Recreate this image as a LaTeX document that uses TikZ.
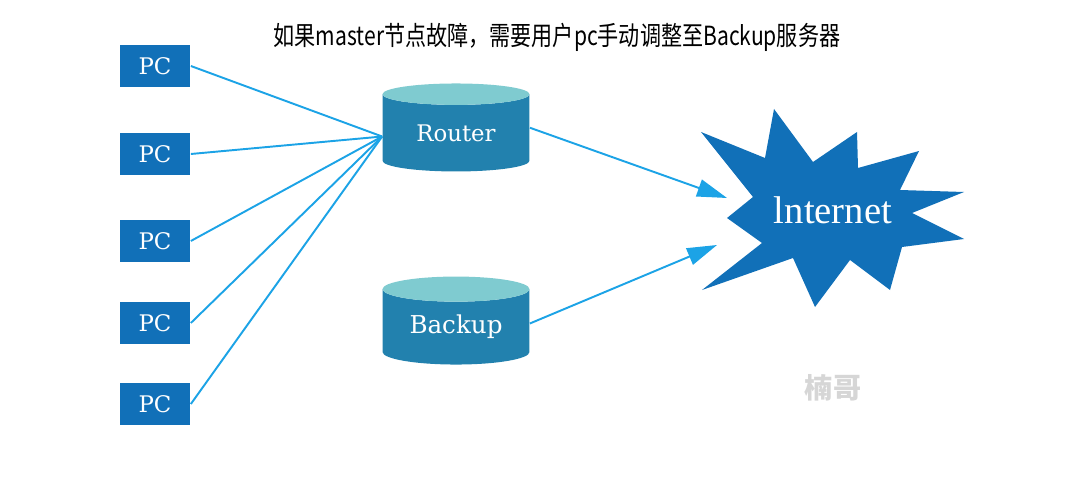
\documentclass[tikz,border=0pt]{standalone}
\usepackage{fontspec}
\setmainfont{Liberation Serif}
\newfontfamily\cjkfont{Noto Sans CJK SC}
\newfontfamily\boxfont{DejaVu Serif}
\usepackage{tikz}
\usetikzlibrary{shapes.geometric,arrows.meta}

\definecolor{pcblue}{HTML}{1170B8}
\definecolor{cylbody}{HTML}{2281AE}
\definecolor{cyltop}{HTML}{7FCBD0}
\definecolor{linkblue}{HTML}{1CA3E6}
\definecolor{markgray}{HTML}{D6D6D6}

\tikzset{
	pcbox/.style={fill=pcblue, minimum width=1.42cm, minimum height=0.84cm, inner sep=0pt, text=white, font=\boxfont\fontsize{13}{13}\selectfont},
	server/.style={cylinder, shape border rotate=90, aspect=0.27, cylinder uses custom fill, cylinder body fill=cylbody, cylinder end fill=cyltop, minimum width=2.94cm, minimum height=1.76cm, inner sep=0pt, text=white},
	link/.style={draw=linkblue, line width=1.1pt},
	uplink/.style={link, -{Triangle[length=17pt,width=10pt]}}
}

\begin{document}
\begin{tikzpicture}[x=0.02cm, y=-0.02cm]
			\useasboundingbox (0,0) rectangle (1087,489);

			\node (title) at (557,37) {\scalebox{0.8}[1]{\cjkfont\fontsize{15}{15}\selectfont 如果master节点故障，需要用户pc手动调整至Backup服务器}};

			\foreach \y [count=\i] in {66,154,241,323,404}
				\node [pcbox] (pc\i) at (155,\y) {PC};

			\node [server, font=\boxfont\fontsize{13}{13}\selectfont] (router) at (456,133) {Router};
			\node [server, font=\boxfont\fontsize{14}{14}\selectfont] (backup) at (456,327) {Backup};

			\fill [pcblue] (701,132) -- (765,158) -- (774,109) -- (813,162) -- (857,132) -- (858,168)
				-- (919,151) -- (900,190) -- (964,192) -- (912,213) -- (964,239) -- (902,247)
				-- (890,290) -- (850,260) -- (815,307) -- (793,258) -- (702,290) -- (762,243)
				-- (727,218) -- (753,197) -- cycle;
			\node [text=white, font=\fontsize{22}{22}\selectfont] (internet) at (833,210) {lnternet};
			\coordinate (in1) at (727,198);
			\coordinate (in2) at (717,245);

			\foreach \i in {1,...,5}
				\draw [link] (pc\i.east) -- ([yshift=-2pt]router.west);

			\draw [uplink] ([yshift=3pt]router.east) -- (in1);
			\draw [uplink] ([yshift=2pt]backup.east) -- (in2);

			\node [text=markgray, font=\cjkfont\bfseries\fontsize{16}{16}\selectfont] (mark) at (833,388) {楠哥};

		\end{tikzpicture}
\end{document}
